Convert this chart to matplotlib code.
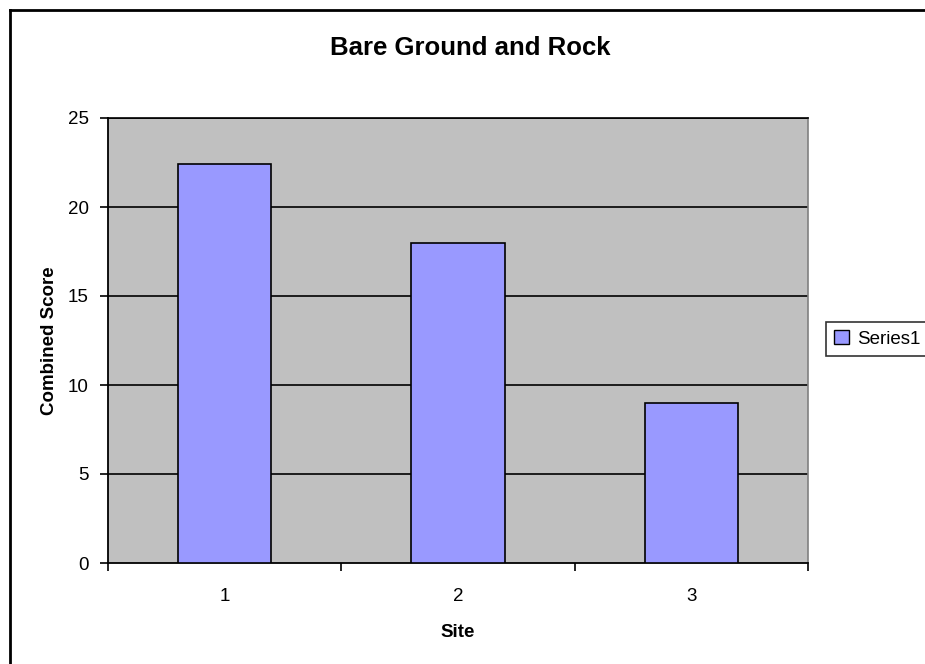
import matplotlib
matplotlib.use("Agg")
import matplotlib.pyplot as plt
from matplotlib.lines import Line2D
from matplotlib.patches import Patch

sites = ["1", "2", "3"]
scores = [22.4, 18.0, 9.0]
series_name = "Series1"
yticks = [0, 5, 10, 15, 20, 25]

plt.rcParams['font.family'] = ['Liberation Sans', 'DejaVu Sans']

W, H = 925, 664
fig = plt.figure(figsize=(W / 100, H / 100), dpi=100)
fig.patch.set_facecolor('white')

L, R, T, B = 108, 808, 118, 563
ax = fig.add_axes([L / W, 1 - B / H, (R - L) / W, (B - T) / H])
ax.set_facecolor('#C0C0C0')

x = list(range(1, len(sites) + 1))
ax.bar(x, scores, width=0.4, color='#9999FF', edgecolor='black', linewidth=1.2, zorder=3)

ax.set_xlim(0.5, len(sites) + 0.5)
ax.set_ylim(0, 25)
ax.set_yticks(yticks)
ax.set_yticklabels([str(v) for v in yticks], fontsize=13.5)
for v in yticks[1:]:
    ax.axhline(v, color='black', linewidth=1.2, zorder=1)

# x ticks at category boundaries, labels at centers
ax.set_xticks([i + 0.5 for i in range(0, len(sites) + 1)])
ax.set_xticklabels([])
ax.set_xticks(x, minor=True)
ax.set_xticklabels(sites, minor=True, fontsize=13.5)
ax.tick_params(axis='x', which='minor', length=0, pad=18)
ax.tick_params(axis='x', which='major', length=6, width=1.2, direction='out')
ax.tick_params(axis='y', length=6, width=1.2, direction='out', pad=8)

for s in ['left', 'bottom']:
    ax.spines[s].set_color('black')
    ax.spines[s].set_linewidth(1.3)
ax.spines['top'].set_color('black')
ax.spines['top'].set_linewidth(1.2)
ax.spines['right'].set_color('#808080')
ax.spines['right'].set_linewidth(1.2)

ax.set_xlabel('Site', fontsize=13.5, fontweight='bold', labelpad=14)
ax.set_ylabel('Combined Score', fontsize=13.5, fontweight='bold', labelpad=7)

fig.text(470 / W, 1 - 48 / H, 'Bare Ground and Rock', fontsize=18.5,
         fontweight='bold', ha='center', va='center')

handle = Patch(facecolor='#9999FF', edgecolor='black', linewidth=1)
leg = fig.legend([handle], [series_name], loc='center left',
                 bbox_to_anchor=(826 / W, 1 - 339 / H), fontsize=13.5,
                 frameon=True, fancybox=False, handlelength=0.75, handleheight=0.75,
                 handletextpad=0.45, borderpad=0.45, borderaxespad=0)
leg.get_frame().set_edgecolor('black')
leg.get_frame().set_linewidth(1.2)

# outer chart frame (left and top edges visible)
fig.add_artist(Line2D([9.5 / W, 9.5 / W], [1 - 9.5 / H, 0], transform=fig.transFigure,
                      color='black', linewidth=2))
fig.add_artist(Line2D([9.5 / W, 1], [1 - 9.5 / H, 1 - 9.5 / H], transform=fig.transFigure,
                      color='black', linewidth=2))

fig.savefig('out.png', dpi=100)
